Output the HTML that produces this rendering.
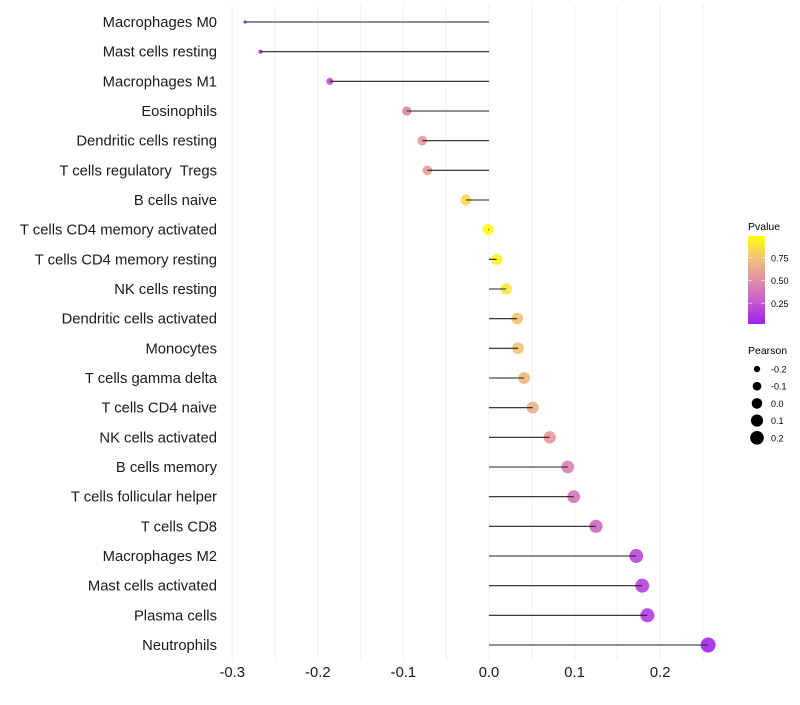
<!DOCTYPE html>
<html><head><meta charset="utf-8"><style>
body{margin:0;background:#fff}
svg text{font-family:"Liberation Sans",sans-serif;white-space:pre}
</style></head><body>
<svg id="chart" width="800" height="700" viewBox="0 0 800 700">
<g id="grid"></g>
<g id="ylabels"></g>
<g id="points"></g>
<g id="segs"></g>
<g id="xticks"></g>
<g id="legend">
<defs><linearGradient id="pg" x1="0" y1="1" x2="0" y2="0">
<stop offset="0" stop-color="#a020f0"/><stop offset="0.25" stop-color="#c65ad0"/><stop offset="0.5" stop-color="#e08fa5"/><stop offset="0.75" stop-color="#f2c275"/><stop offset="1" stop-color="#ffff10"/></linearGradient></defs>
<text x="748" y="230" font-size="10.5">Pvalue</text>
<rect x="748" y="236" width="17" height="88" fill="url(#pg)"/>
</g>
</svg>
<script>
const categories=["Macrophages M0","Mast cells resting","Macrophages M1","Eosinophils","Dendritic cells resting","T cells regulatory  Tregs","B cells naive","T cells CD4 memory activated","T cells CD4 memory resting","NK cells resting","Dendritic cells activated","Monocytes","T cells gamma delta","T cells CD4 naive","NK cells activated","B cells memory","T cells follicular helper","T cells CD8","Macrophages M2","Mast cells activated","Plasma cells","Neutrophils"];
const pearson=[-0.285,-0.267,-0.186,-0.096,-0.078,-0.072,-0.027,-0.001,0.009,0.020,0.033,0.034,0.041,0.051,0.071,0.092,0.099,0.125,0.172,0.179,0.185,0.256];
const pvalue=[0.02,0.03,0.2,0.45,0.55,0.57,0.85,0.98,0.95,0.9,0.75,0.75,0.7,0.65,0.55,0.42,0.38,0.3,0.16,0.14,0.12,0.03];
const xTicks=[-0.3,-0.2,-0.1,0.0,0.1,0.2];
const xTickLabels=["-0.3","-0.2","-0.1","0.0","0.1","0.2"];
const pvTicks=[0.25,0.5,0.75];
const pvTickLabels=["0.25","0.50","0.75"];
const sizeVals=[-0.2,-0.1,0.0,0.1,0.2];
const sizeLabels=["-0.2","-0.1","0.0","0.1","0.2"];
const NS="http://www.w3.org/2000/svg";
const X=v=>489+v*856;
const Y=i=>22+i*(623/(categories.length-1));
const R=v=>Math.sqrt(Math.max(2,31+100*v));
const stops=[[0,[160,32,240]],[0.25,[198,90,208]],[0.5,[224,143,165]],[0.75,[242,194,117]],[1,[255,255,16]]];
function col(p){for(let k=1;k<stops.length;k++){if(p<=stops[k][0]){const a=stops[k-1],b=stops[k];const t=(p-a[0])/(b[0]-a[0]);return "rgb("+a[1].map((c,j)=>Math.round(c+(b[1][j]-c)*t)).join(",")+")";}}return "rgb(255,255,16)";}
function mk(tag,at,parent){const e=document.createElementNS(NS,tag);for(const k in at)e.setAttribute(k,at[k]);document.getElementById(parent).appendChild(e);return e;}
for(let v=-0.3;v<=0.251;v+=0.05){const g=mk("line",{x1:X(v),x2:X(v),y1:5,y2:660,stroke:"#f1f1f1","stroke-width":1},"grid");

}
categories.forEach((c,i)=>{
const t=mk("text",{x:217,y:Y(i)+5,"text-anchor":"end","font-size":14.8,fill:"#1a1a1a"},"ylabels");t.textContent=c;


const p=mk("circle",{cx:X(pearson[i]),cy:Y(i),r:R(pearson[i]),fill:col(pvalue[i]),"fill-opacity":0.9},"points");


const s=mk("line",{x1:X(0),x2:X(pearson[i]),y1:Y(i),y2:Y(i),stroke:"#222","stroke-width":1.1},"segs");


});
xTicks.forEach((v,i)=>{const t=mk("text",{x:X(v),y:677,"text-anchor":"middle","font-size":14.8,fill:"#1a1a1a"},"xticks");t.textContent=xTickLabels[i];

});
const PY=p=>326-p*91;
pvTicks.forEach((v,i)=>{
const l1=mk("line",{x1:748,x2:752,y1:PY(v),y2:PY(v),stroke:"#fff","stroke-opacity":0.6},"legend");


const l2=mk("line",{x1:761,x2:765,y1:PY(v),y2:PY(v),stroke:"#fff","stroke-opacity":0.6},"legend");


const t=mk("text",{x:771,y:PY(v)+3.5,"font-size":9},"legend");t.textContent=pvTickLabels[i];

});
const tt=mk("text",{x:748,y:354,"font-size":10.5},"legend");tt.textContent="Pearson";


sizeVals.forEach((v,i)=>{const y=369+i*17.2;
const c=mk("circle",{cx:757,cy:y,r:R(v)*0.95,fill:"#000"},"legend");


const t=mk("text",{x:771,y:y+3.5,"font-size":9},"legend");t.textContent=sizeLabels[i];

});
</script>
</body></html>
